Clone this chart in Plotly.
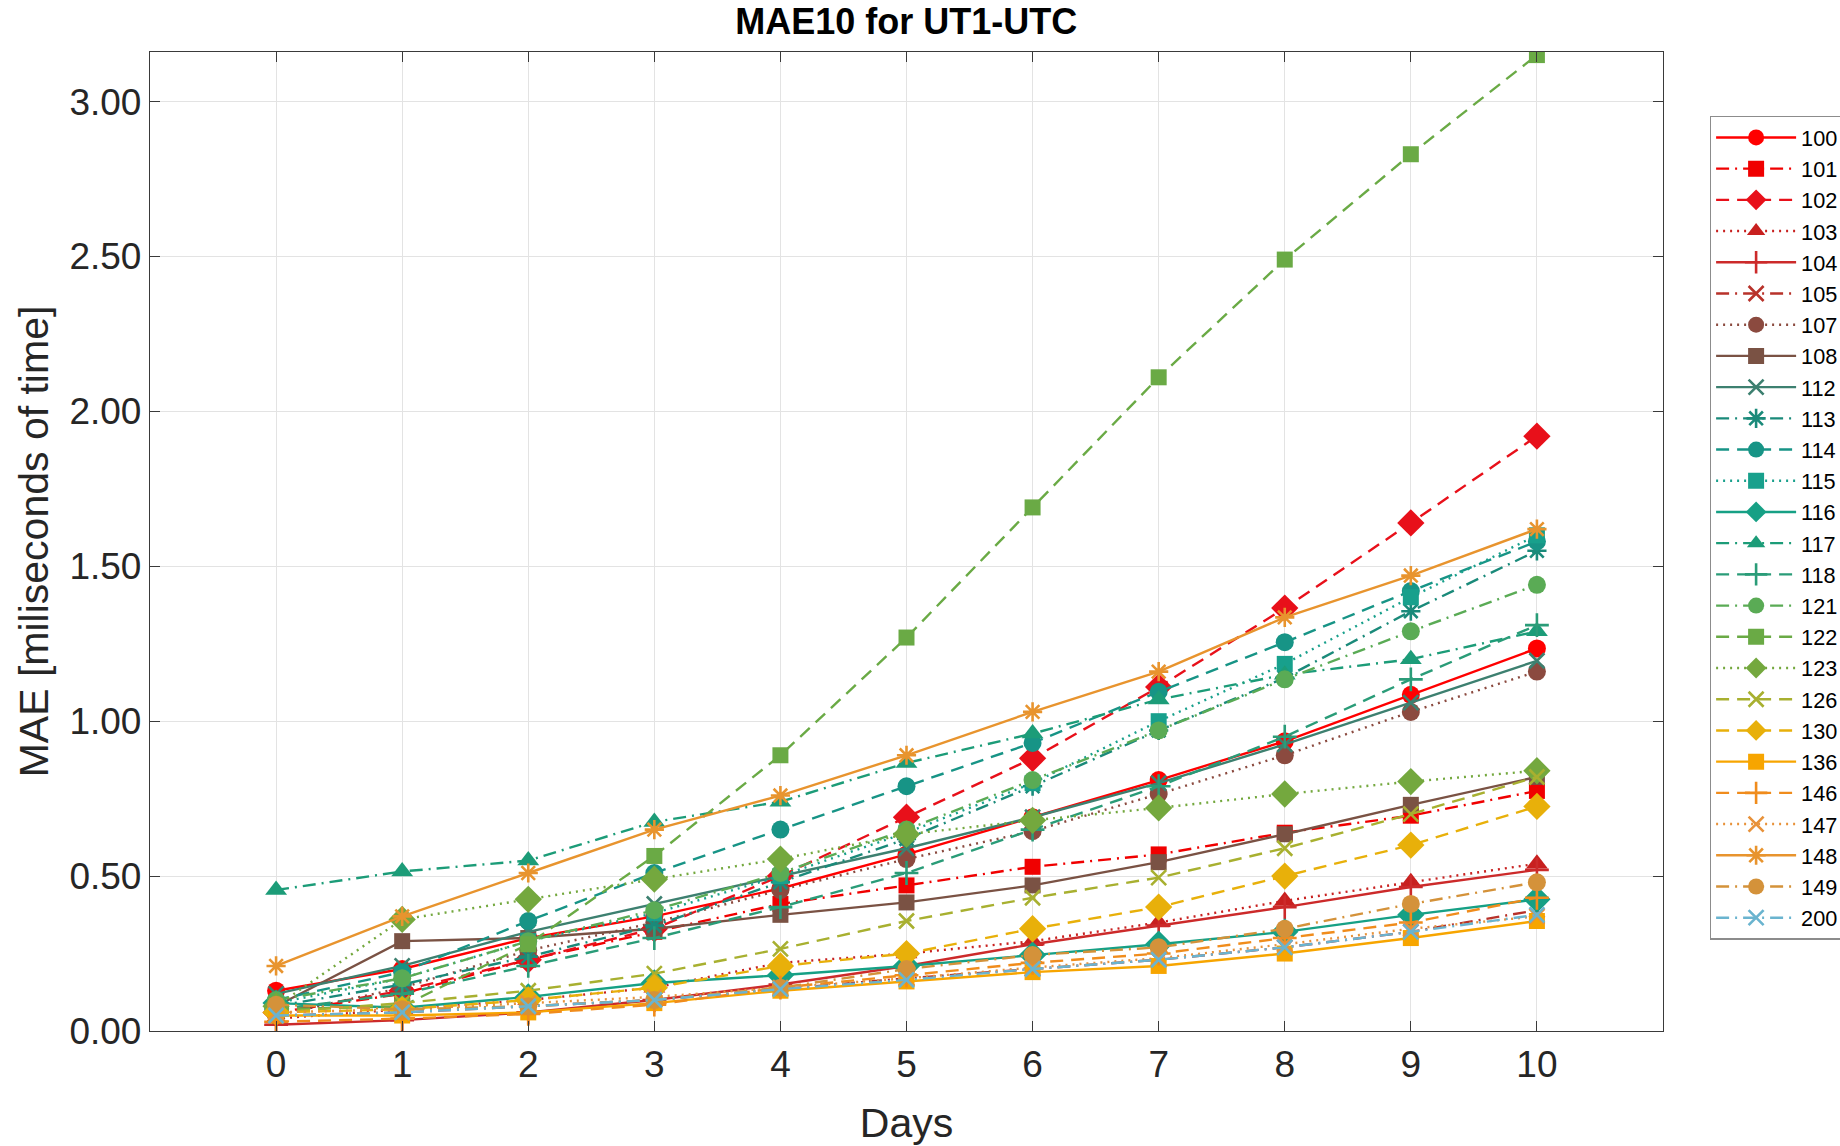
import plotly.graph_objects as go

days = [0, 1, 2, 3, 4, 5, 6, 7, 8, 9, 10]
names = ["100", "101", "102", "103", "104", "105", "107", "108", "112", "113", "114", "115", "116",
         "117", "118", "121", "122", "123", "126", "130", "136", "146", "147", "148", "149", "200"]

s100 = [0.13, 0.20, 0.30, 0.37, 0.46, 0.57, 0.69, 0.81, 0.935, 1.085, 1.235]
s101 = [0.06, 0.12, 0.23, 0.32, 0.41, 0.47, 0.53, 0.57, 0.64, 0.695, 0.775]
s102 = [0.06, 0.13, 0.23, 0.33, 0.50, 0.69, 0.88, 1.11, 1.365, 1.64, 1.92]
s103 = [0.04, 0.07, 0.10, 0.14, 0.22, 0.25, 0.29, 0.35, 0.42, 0.48, 0.54]
s104 = [0.02, 0.035, 0.06, 0.10, 0.15, 0.21, 0.28, 0.34, 0.40, 0.465, 0.52]
s105 = [0.05, 0.06, 0.08, 0.10, 0.135, 0.17, 0.20, 0.23, 0.27, 0.32, 0.39]
s107 = [0.05, 0.14, 0.26, 0.35, 0.455, 0.555, 0.645, 0.765, 0.89, 1.03, 1.16]
s108 = [0.08, 0.29, 0.30, 0.33, 0.375, 0.415, 0.47, 0.545, 0.635, 0.73, 0.82]
s112 = [0.12, 0.21, 0.32, 0.41, 0.50, 0.59, 0.69, 0.80, 0.925, 1.06, 1.195]
s113 = [0.08, 0.15, 0.24, 0.34, 0.48, 0.62, 0.79, 0.97, 1.14, 1.355, 1.55]
s114 = [0.10, 0.19, 0.355, 0.51, 0.65, 0.79, 0.93, 1.095, 1.255, 1.42, 1.58]
s115 = [0.09, 0.17, 0.29, 0.38, 0.50, 0.64, 0.80, 1.00, 1.185, 1.40, 1.60]
s116 = [0.09, 0.075, 0.11, 0.155, 0.18, 0.21, 0.245, 0.28, 0.32, 0.375, 0.425]
s117 = [0.455, 0.515, 0.55, 0.675, 0.74, 0.865, 0.96, 1.07, 1.15, 1.20, 1.29]
s118 = [0.07, 0.12, 0.21, 0.30, 0.40, 0.51, 0.65, 0.79, 0.95, 1.135, 1.31]
s121 = [0.10, 0.17, 0.29, 0.39, 0.51, 0.65, 0.81, 0.97, 1.135, 1.29, 1.44]
s122 = [0.07, 0.08, 0.28, 0.565, 0.89, 1.27, 1.69, 2.11, 2.49, 2.83, 3.15]
s123 = [0.08, 0.36, 0.425, 0.49, 0.555, 0.635, 0.68, 0.72, 0.765, 0.805, 0.84]
s126 = [0.06, 0.09, 0.13, 0.185, 0.265, 0.355, 0.43, 0.495, 0.59, 0.70, 0.82]
s130 = [0.06, 0.07, 0.10, 0.14, 0.21, 0.25, 0.33, 0.40, 0.50, 0.60, 0.725]
s136 = [0.05, 0.05, 0.06, 0.09, 0.13, 0.16, 0.19, 0.21, 0.25, 0.30, 0.355]
s146 = [0.03, 0.04, 0.055, 0.085, 0.14, 0.18, 0.22, 0.25, 0.30, 0.35, 0.43]
s147 = [0.06, 0.07, 0.09, 0.11, 0.14, 0.17, 0.205, 0.235, 0.28, 0.33, 0.37]
s148 = [0.21, 0.37, 0.51, 0.65, 0.76, 0.89, 1.03, 1.16, 1.335, 1.47, 1.62]
s149 = [0.085, 0.07, 0.08, 0.10, 0.14, 0.20, 0.245, 0.27, 0.33, 0.41, 0.48]
s200 = [0.05, 0.06, 0.08, 0.10, 0.135, 0.165, 0.20, 0.23, 0.27, 0.32, 0.375]

series = [s100, s101, s102, s103, s104, s105, s107, s108, s112, s113, s114, s115, s116,
          s117, s118, s121, s122, s123, s126, s130, s136, s146, s147, s148, s149, s200]

colors = ["#ff0000", "#f00000", "#e8101a", "#c8201f", "#cc2a2a", "#b8322a", "#8b4a3f", "#7a5244",
          "#3d8070", "#1a8a7a", "#179486", "#18a08c", "#16a085", "#1c9c78", "#2a9c78",
          "#5aab55", "#6aaa45", "#74a83e", "#a8b030", "#e8b00a", "#f7a500", "#f08c1c",
          "#e8923a", "#e8942e", "#d4923a", "#6ab4cf"]

DASH = "13px,8px"
DOT = "2px,5px"
DASHDOT = "13px,6px,2px,6px"
styles = ["solid", DASHDOT, DASH, DOT, "solid", DASHDOT, DOT, "solid", "solid", DASHDOT, DASH, DOT,
          "solid", DASHDOT, DASH, DASHDOT, DASH, DOT, DASH, DASH, "solid", DASH, DOT, "solid",
          DASHDOT, DASHDOT]
symbols = ["circle", "square", "diamond", "triangle-up", "cross-thin", "x-thin", "circle", "square",
           "x-thin", "asterisk", "circle", "square", "diamond", "triangle-up", "cross-thin",
           "circle", "square", "diamond", "x-thin", "diamond", "square", "cross-thin",
           "x-thin", "asterisk", "circle", "x-thin"]
sizes = {"circle": 18, "square": 16, "diamond": 21, "triangle-up": 19,
         "cross-thin": 17, "x-thin": 15, "asterisk": 16}

fig = go.Figure()
for name, ys, col, dash, sym in zip(names, series, colors, styles, symbols):
    thin = sym in ("cross-thin", "x-thin", "asterisk")
    fig.add_trace(go.Scatter(
        x=days, y=ys, name=name, mode="lines+markers",
        line=dict(color=col, width=2.4, dash=dash),
        marker=dict(symbol=sym, size=sizes[sym], color=col,
                    line=dict(color=col, width=2.6 if thin else 0)),
    ))

FONT = "Arial, Liberation Sans, sans-serif"
tick_font = dict(family=FONT, size=37, color="#262626")
fig.update_layout(
    width=1840, height=1146,
    paper_bgcolor="white", plot_bgcolor="white",
    margin=dict(l=150, r=177, t=52, b=115, autoexpand=False),
    title=dict(text="<b>MAE10 for UT1-UTC</b>", x=0.4925, xanchor="center", y=0.981, yanchor="middle",
               font=dict(family=FONT, size=36, color="#000000")),
    showlegend=True,
    legend=dict(x=1.031, xanchor="left", y=0.935, yanchor="top",
                bgcolor="white", bordercolor="#8c8c8c", borderwidth=1.2,
                font=dict(family=FONT, size=21.7, color="#000000"),
                itemwidth=80, tracegroupgap=0),
)
fig.update_xaxes(range=[-1, 11], tickmode="array", tickvals=days, ticktext=[str(d) for d in days],
                 showgrid=True, gridcolor="#e3e3e3", gridwidth=1,
                 showline=True, linecolor="#3a3a3a", linewidth=1.3, mirror="ticks",
                 ticks="inside", ticklen=10, tickcolor="#3a3a3a", tickwidth=1.3,
                 tickfont=tick_font, zeroline=False,
                 title=dict(text="Days", font=dict(family=FONT, size=41, color="#262626"), standoff=24))
fig.update_yaxes(range=[0, 3.16], tickmode="array", tickvals=[0, 0.5, 1, 1.5, 2, 2.5, 3],
                 ticktext=["0.00", "0.50", "1.00", "1.50", "2.00", "2.50", "3.00"],
                 showgrid=True, gridcolor="#e3e3e3", gridwidth=1,
                 showline=True, linecolor="#3a3a3a", linewidth=1.3, mirror="ticks",
                 ticks="inside", ticklen=10, tickcolor="#3a3a3a", tickwidth=1.3,
                 tickfont=tick_font, zeroline=False,
                 title=dict(text="MAE [miliseconds of time]", font=dict(family=FONT, size=41, color="#262626"), standoff=8))

fig.write_html("out.html")
